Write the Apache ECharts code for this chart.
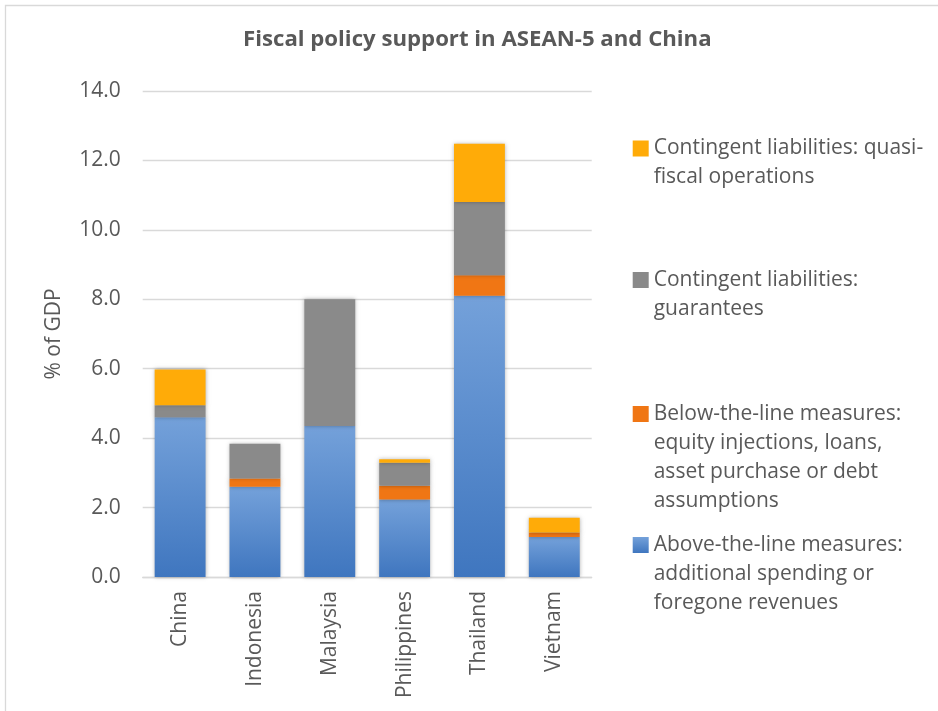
<!DOCTYPE html>
<html>
<head>
<meta charset="utf-8">
<script src="https://cdn.jsdelivr.net/npm/echarts@6/dist/echarts.min.js"></script>
<style>
html,body{margin:0;padding:0;background:#fff;}
#chart{width:938px;height:711px;}
</style>
</head>
<body>
<div id="chart"></div>
<script>
var categories = ['China', 'Indonesia', 'Malaysia', 'Philippines', 'Thailand', 'Vietnam'];
var aboveTheLine = [4.60, 2.60, 4.35, 2.23, 8.10, 1.15];
var belowTheLine = [0, 0.24, 0, 0.40, 0.59, 0.13];
var guarantees = [0.35, 1.00, 3.65, 0.66, 2.11, 0];
var quasiFiscal = [1.03, 0, 0, 0.10, 1.68, 0.43];
var yTicks = [0, 2, 4, 6, 8, 10, 12, 14];

var seriesNames = [
  'Above-the-line measures: additional spending or foregone revenues',
  'Below-the-line measures: equity injections, loans, asset purchase or debt assumptions',
  'Contingent liabilities: guarantees',
  'Contingent liabilities: quasi-fiscal operations'
];
var legendLines = [
  ['Above-the-line measures:', 'additional spending or', 'foregone revenues'],
  ['Below-the-line measures:', 'equity injections, loans,', 'asset purchase or debt', 'assumptions'],
  ['Contingent liabilities:', 'guarantees'],
  ['Contingent liabilities: quasi-', 'fiscal operations']
];

var FONT = 'Open Sans';
var TXT = '#595959';
var LH = 29;
var legendTops = [472.5, 312.5, 236.5, 105];

var chart = echarts.init(document.getElementById('chart'));

function mkLegend(i) {
  var n = legendLines[i].length;
  var pad = [];
  for (var k = 0; k < n - 1; k++) pad.push('');
  return {
    data: [seriesNames[i]],
    left: 632.7,
    top: legendTops[i],
    padding: 0,
    itemWidth: 16,
    itemHeight: 16,
    orient: 'vertical',
    selectedMode: false,
    icon: 'rect',
    formatter: function () { return pad.concat(legendLines[i]).join('\n'); },
    textStyle: {
      fontFamily: FONT,
      fontSize: 21,
      color: TXT,
      lineHeight: LH
    }
  };
}

var shadow = { shadowBlur: 4, shadowColor: 'rgba(0,0,0,0.3)', shadowOffsetX: 0, shadowOffsetY: 0 };

var option = {
  animation: false,
  backgroundColor: '#ffffff',
  title: {
    text: 'Fiscal policy support in ASEAN-5 and China',
    left: 243,
    top: 29,
    padding: 0,
    textStyle: { fontFamily: FONT, fontSize: 22.2, fontWeight: 'bold', color: TXT }
  },
  graphic: [{
    type: 'rect',
    shape: { x: 5.5, y: 5.5, width: 960, height: 730 },
    style: { fill: 'none', stroke: '#D9D9D9', lineWidth: 1.3 },
    silent: true
  }],
  legend: [mkLegend(3), mkLegend(2), mkLegend(1), mkLegend(0)],
  grid: { left: 142.7, right: 346.3, top: 91, bottom: 134, containLabel: false },
  xAxis: {
    type: 'category',
    data: categories,
    axisLine: { lineStyle: { color: '#D9D9D9', width: 1.3 } },
    axisTick: { show: false },
    axisLabel: { rotate: 90, margin: 14, fontFamily: FONT, fontSize: 21, color: TXT }
  },
  yAxis: {
    type: 'value',
    min: yTicks[0],
    max: yTicks[yTicks.length - 1],
    interval: yTicks[1] - yTicks[0],
    name: '% of GDP',
    nameLocation: 'middle',
    nameGap: 78,
    nameTextStyle: { fontFamily: FONT, fontSize: 21, color: TXT },
    axisLine: { show: false },
    axisTick: { show: false },
    axisLabel: {
      margin: 22, fontFamily: FONT, fontSize: 21, color: TXT,
      formatter: function (v) { return v.toFixed(1); }
    },
    splitLine: { lineStyle: { color: '#D9D9D9', width: 1.3 } }
  },
  series: [
    {
      name: seriesNames[0], type: 'bar', stack: 'total', data: aboveTheLine, barWidth: '68%',
      itemStyle: Object.assign({
        color: new echarts.graphic.LinearGradient(0, 0, 0, 1, [
          { offset: 0, color: '#74A1DA' },
          { offset: 1, color: '#3F76BF' }
        ])
      }, shadow)
    },
    {
      name: seriesNames[1], type: 'bar', stack: 'total', data: belowTheLine,
      itemStyle: Object.assign({ color: '#F07614' }, shadow)
    },
    {
      name: seriesNames[2], type: 'bar', stack: 'total', data: guarantees,
      itemStyle: Object.assign({ color: '#8A8A8A' }, shadow)
    },
    {
      name: seriesNames[3], type: 'bar', stack: 'total', data: quasiFiscal,
      itemStyle: Object.assign({ color: '#FFAB08' }, shadow)
    }
  ]
};
chart.setOption(option);
</script>
</body>
</html>
